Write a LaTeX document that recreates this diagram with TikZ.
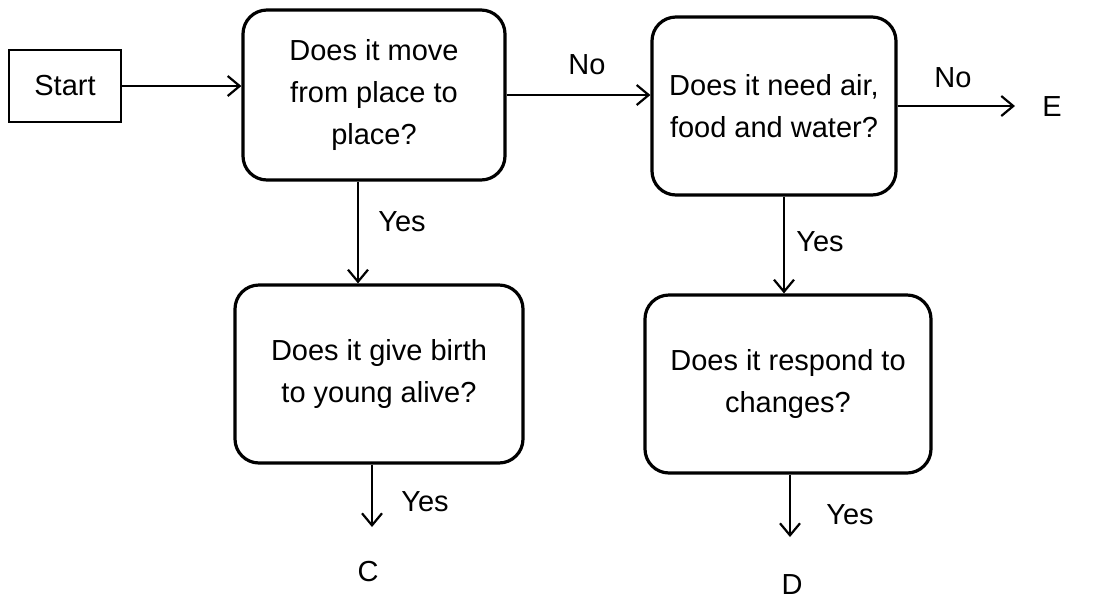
\documentclass[tikz,border=0pt]{standalone}
\usepackage{fontspec}
\setmainfont{Liberation Sans}
\usetikzlibrary{arrows.meta}

\begin{document}
\begin{tikzpicture}[x=0.5pt, y=-0.5pt,
  question/.style={rectangle, rounded corners=12pt, draw, line width=1.6pt, align=center, font=\fontsize{14.5}{21}\selectfont},
  answer/.style={font=\fontsize{14.5}{17}\selectfont},
  flow/.style={-{Straight Barb[length=6pt,width=10pt]}, line width=1.1pt}]
\useasboundingbox (0,0) rectangle (1094,601);
\node (s) at (65,86) [rectangle, draw, line width=0.6pt, minimum width=56pt, minimum height=36pt, answer] {Start};
\node (a) at (374,95) [question, minimum width=131pt, minimum height=85pt] {Does it move\\from place to\\place?};
\node (b) at (774,106) [question, minimum width=122pt, minimum height=89pt] {Does it need air,\\food and water?};
\node (c) at (379,374) [question, minimum width=144pt, minimum height=89pt] {Does it give birth\\to young alive?};
\node (d) at (788,384) [question, minimum width=143pt, minimum height=89pt] {Does it respond to\\changes?};
\node (e) at (1052,107) [answer] {E};
\node (cc) at (368,572) [answer] {C};
\node (dd) at (792,585) [answer] {D};
\node (no1) at (587,65) [answer] {No};
\node (no2) at (953,78) [answer] {No};
\node (yes1) at (402,222) [answer] {Yes};
\node (yes2) at (820,242) [answer] {Yes};
\node (yes3) at (425,502) [answer] {Yes};
\node (yes4) at (850,515) [answer] {Yes};
\coordinate (e1) at (1015,106);
\coordinate (c1) at (372,527);
\coordinate (d1) at (790,537);
\draw [flow] (s) -- (s -| a.west);
\draw [flow] (a.east) -- (a.east -| b.west);
\draw [flow] (b.east) -- (e1);
\draw [flow] ([xshift=-8pt]a.south) -- ([xshift=-8pt]a.south |- c.north);
\draw [flow] ([xshift=5pt]b.south) -- ([xshift=5pt]b.south |- d.north);
\draw [flow] (c.south -| c1) -- (c1);
\draw [flow] (d.south -| d1) -- (d1);
\end{tikzpicture}
\end{document}
